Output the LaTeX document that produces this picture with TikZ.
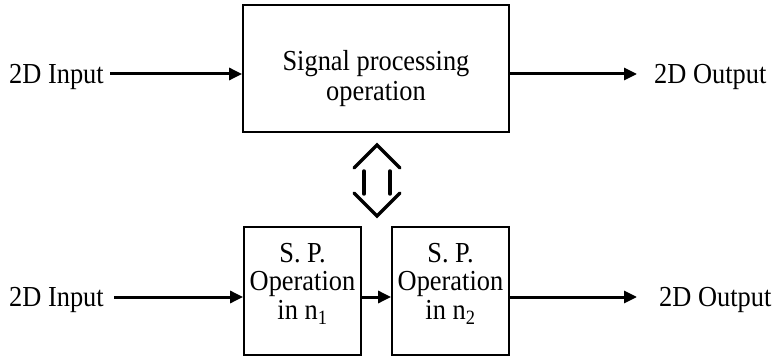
\documentclass[tikz,border=0pt]{standalone}
\usepackage{fontspec}
\setmainfont{Liberation Serif}[FakeStretch=0.91]
\usetikzlibrary{arrows.meta}
\begin{document}
\begin{tikzpicture}[x=1pt,y=-1pt,
  txt/.style={font=\fontsize{29}{30}\selectfont, inner sep=0pt, align=center},
  box/.style={draw, line width=1.8pt, inner sep=0pt},
  inlbl/.style={txt, inner xsep=6pt, text depth=0pt, anchor=east},
  outlbl/.style={txt, inner xsep=17pt, text depth=0pt, anchor=west},
  flow/.style={line width=3pt, -{Triangle[length=13pt,width=12pt]}},
  swap/.style={line width=3.5pt, line cap=round}]
\useasboundingbox (0,0) rectangle (774,358);

% upper chain: one combined operation
\node[box, minimum width=266pt, minimum height=127pt] (sp) at (376,68.5) {};
\node[txt] (spt) at ([yshift=-9.7pt]sp.center) {Signal processing\\operation};
\node[inlbl] (in1) at (110,74) {2D Input};
\node[outlbl] (out1) at (637,74) {2D Output};
\draw[flow] (in1.east) -- (in1.east -| sp.west);
\draw[flow] (sp.east |- out1.west) -- (out1.west);

% equivalence symbol between the two chains
\draw[swap] (354,168) -- (377,145) -- (400,168);
\draw[swap] (364,171) -- (364,194);
\draw[swap] (390,171) -- (390,194);
\draw[swap] (354,193) -- (377,216) -- (400,193);

% lower chain: separable operations along n1 then n2
\node[box, minimum width=117pt, minimum height=128pt] (op1) at (302.5,291) {};
\node[box, minimum width=117pt, minimum height=128pt] (op2) at (450.5,291) {};
\node[txt, font=\fontsize{29}{28.5}\selectfont] (op1t) at ([yshift=7.3pt]op1.center)
  {S. P.\\Operation\\in n\textsubscript{1}};
\node[txt, font=\fontsize{29}{28.5}\selectfont] (op2t) at ([yshift=7.3pt]op2.center)
  {S. P.\\Operation\\in n\textsubscript{2}};
\node[inlbl, inner xsep=10pt] (in2) at (114,297) {2D Input};
\node[outlbl, inner xsep=22pt] (out2) at (637,297) {2D Output};
\draw[flow] (in2.east) -- (in2.east -| op1.west);
\draw[flow] (op1.east |- in2.east) -- (op2.west |- in2.east);
\draw[flow] (op2.east |- out2.west) -- (out2.west);
\end{tikzpicture}
\end{document}
